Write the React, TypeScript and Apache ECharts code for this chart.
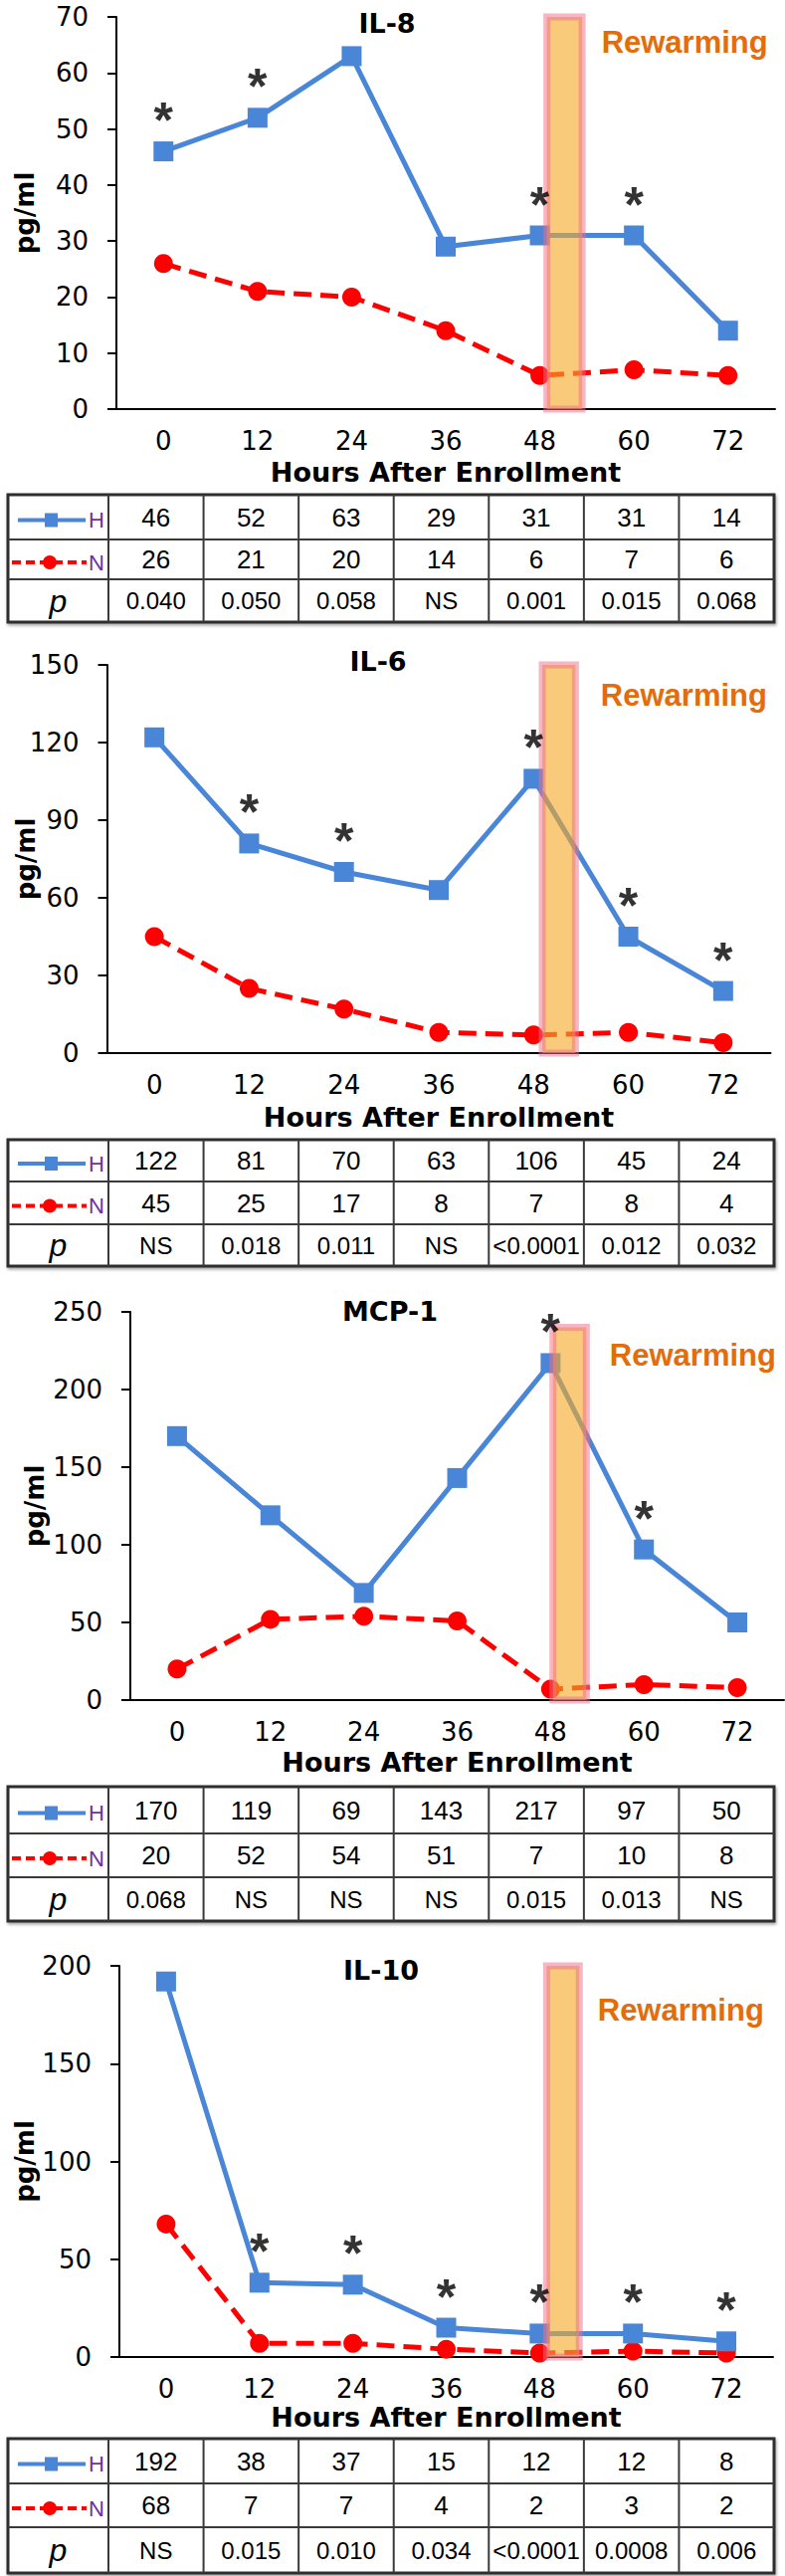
import React, { useEffect, useRef } from 'react';
import * as echarts from 'echarts';

// ---------------- data ----------------
const hours = ['0', '12', '24', '36', '48', '60', '72'];
const panelTitles = ['IL-8', 'IL-6', 'MCP-1', 'IL-10'];

const il8H = [46, 52, 63, 29, 31, 31, 14];
const il8N = [26, 21, 20, 14, 6, 7, 6];
const il8P = ['0.040', '0.050', '0.058', 'NS', '0.001', '0.015', '0.068'];
const il8Star = [true, true, false, false, true, true, false];

const il6H = [122, 81, 70, 63, 106, 45, 24];
const il6N = [45, 25, 17, 8, 7, 8, 4];
const il6P = ['NS', '0.018', '0.011', 'NS', '<0.0001', '0.012', '0.032'];
const il6Star = [false, true, true, false, true, true, true];

const mcp1H = [170, 119, 69, 143, 217, 97, 50];
const mcp1N = [20, 52, 54, 51, 7, 10, 8];
const mcp1P = ['0.068', 'NS', 'NS', 'NS', '0.015', '0.013', 'NS'];
const mcp1Star = [false, false, false, false, true, true, false];

const il10H = [192, 38, 37, 15, 12, 12, 8];
const il10N = [68, 7, 7, 4, 2, 3, 2];
const il10P = ['NS', '0.015', '0.010', '0.034', '<0.0001', '0.0008', '0.006'];
const il10Star = [false, true, true, true, true, true, true];

const yMax = [70, 150, 250, 200];
const yStep = [10, 30, 50, 50];
const rewarmStart = [48.9, 49.1, 48.3, 48.9];
const rewarmEnd = [53.4, 53.3, 52.6, 53.1];
const rewarmTop = [70, 150, 240, 200];

const seriesH = [il8H, il6H, mcp1H, il10H];
const seriesN = [il8N, il6N, mcp1N, il10N];
const pVals = [il8P, il6P, mcp1P, il10P];
const stars = [il8Star, il6Star, mcp1Star, il10Star];

// ---------------- layout / style ----------------
const GRID = [
  { left: 117, top: 17, width: 662, height: 394 },
  { left: 107.5, top: 668, width: 667, height: 390 },
  { left: 131, top: 1318, width: 657, height: 390 },
  { left: 120, top: 1975, width: 657, height: 393 },
];
const TITLE_POS = [
  [389, 23],
  [380, 664],
  [392, 1317],
  [383, 1979],
];
const Y_NAME_GAP = [79, 69, 83, 82];
const X_NAME_GAP = [50, 51, 49, 47];
const REWARM_OFFSET = [
  [16, 13],
  [22, 18],
  [20, 16],
  [15, 32],
];
const TABLE_TOP = [497, 1145, 1795, 2450];
const ROW_H = [
  [45, 40, 43],
  [42, 43, 42],
  [47, 44, 44],
  [45, 44, 46],
];
const TABLE_LEFT = 8;
const TABLE_COL1 = 109;
const TABLE_RIGHT = 778;
const COL_W = (TABLE_RIGHT - TABLE_COL1) / 7;

const BLUE = '#4A86D8';
const RED = '#FF0000';
const PURPLE = '#7030A0';
const ORANGE = '#E46C0A';
const AX = 'DejaVu Sans';
const ARIAL = 'Liberation Sans';

function txt(x: number, y: number, text: string, size: number, opts: any = {}) {
  return {
    type: 'text',
    x,
    y,
    silent: true,
    style: {
      text,
      fill: opts.fill || '#000',
      fontSize: size,
      fontFamily: opts.family || ARIAL,
      fontWeight: opts.weight || 'normal',
      fontStyle: opts.style || 'normal',
      align: 'center',
      verticalAlign: 'middle',
      textAlign: 'center',
      textVerticalAlign: 'middle',
    },
  };
}

function tableGroup(i: number) {
  const [h1, h2, h3] = ROW_H[i];
  const total = h1 + h2 + h3;
  const yH = h1 / 2;
  const yN = h1 + h2 / 2;
  const yP = h1 + h2 + h3 / 2;
  const children: any[] = [];
  children.push({
    type: 'rect',
    shape: { x: TABLE_LEFT, y: 0, width: TABLE_RIGHT - TABLE_LEFT, height: total },
    style: {
      fill: '#fff',
      stroke: '#2e2e2e',
      lineWidth: 3,
      shadowBlur: 3,
      shadowOffsetX: 1,
      shadowOffsetY: 2,
      shadowColor: 'rgba(0,0,0,0.35)',
    },
  });
  for (let k = 0; k < 7; k++) {
    const x = TABLE_COL1 + k * COL_W;
    children.push({ type: 'line', shape: { x1: x, y1: 0, x2: x, y2: total }, style: { stroke: '#3a3a3a', lineWidth: 2 } });
  }
  [h1, h1 + h2].forEach((y) => {
    children.push({ type: 'line', shape: { x1: TABLE_LEFT, y1: y, x2: TABLE_RIGHT, y2: y }, style: { stroke: '#3a3a3a', lineWidth: 2 } });
  });
  for (let j = 0; j < 7; j++) {
    const cx = TABLE_COL1 + (j + 0.5) * COL_W;
    children.push(txt(cx, yH, String(seriesH[i][j]), 26));
    children.push(txt(cx, yN, String(seriesN[i][j]), 26));
    children.push(txt(cx, yP, pVals[i][j], 24));
  }
  // legend keys
  children.push({ type: 'line', shape: { x1: 18, y1: yH + 3, x2: 86, y2: yH + 3 }, style: { stroke: BLUE, lineWidth: 4 } });
  children.push({ type: 'rect', shape: { x: 45, y: yH + 3 - 7, width: 13, height: 14 }, style: { fill: BLUE } });
  children.push(txt(97, yH + 3, 'H', 22, { fill: PURPLE }));
  children.push({ type: 'line', shape: { x1: 12, y1: yN + 3, x2: 87, y2: yN + 3 }, style: { stroke: RED, lineWidth: 4, lineDash: [9, 5] } });
  children.push({ type: 'circle', shape: { cx: 50, cy: yN + 3, r: 7 }, style: { fill: RED } });
  children.push(txt(97, yN + 3, 'N', 22, { fill: PURPLE }));
  children.push(txt((TABLE_LEFT + TABLE_COL1) / 2, yP, 'p', 32, { style: 'italic' }));
  return { type: 'group', x: 0, y: TABLE_TOP[i], children };
}

function buildOption() {
  const xAxis: any[] = [];
  const yAxis: any[] = [];
  const series: any[] = [];
  const graphic: any[] = [];

  for (let i = 0; i < 4; i++) {
    xAxis.push({
      type: 'category',
      gridIndex: i,
      data: hours,
      boundaryGap: true,
      axisLine: { onZero: false, lineStyle: { color: '#000', width: 2 } },
      axisTick: { alignWithLabel: true, length: 13, lineStyle: { color: '#000', width: 2 } },
      axisLabel: { color: '#000', fontSize: 26, fontFamily: AX, margin: 19, interval: 0 },
      splitLine: { show: false },
      name: 'Hours After Enrollment',
      nameLocation: 'middle',
      nameGap: X_NAME_GAP[i],
      nameMoveOverlap: false,
      nameTextStyle: { color: '#000', fontSize: 27, fontWeight: 'bold', fontFamily: AX },
    });
    xAxis.push({ type: 'value', gridIndex: i, min: -6, max: 78, show: false });
    yAxis.push({
      type: 'value',
      gridIndex: i,
      min: 0,
      max: yMax[i],
      interval: yStep[i],
      axisLine: { show: true, onZero: false, lineStyle: { color: '#000', width: 2 } },
      axisTick: { show: true, length: 9, lineStyle: { color: '#000', width: 2 } },
      splitLine: { show: false },
      axisLabel: { color: '#000', fontSize: 26, fontFamily: AX, margin: 28 },
      name: 'pg/ml',
      nameLocation: 'middle',
      nameRotate: 90,
      nameGap: Y_NAME_GAP[i],
      nameMoveOverlap: false,
      nameTextStyle: { color: '#000', fontSize: 26, fontWeight: 'bold', fontFamily: AX },
    });

    series.push({
      name: 'N',
      type: 'line',
      xAxisIndex: 2 * i,
      yAxisIndex: i,
      data: seriesN[i],
      symbol: 'circle',
      symbolSize: 19,
      lineStyle: { color: RED, width: 5, type: [18, 9] },
      itemStyle: { color: RED },
      z: 2,
      silent: true,
    });
    series.push({
      name: 'H',
      type: 'line',
      xAxisIndex: 2 * i,
      yAxisIndex: i,
      data: seriesH[i],
      symbol: 'rect',
      symbolSize: 20,
      lineStyle: { color: BLUE, width: 5 },
      itemStyle: { color: BLUE },
      z: 3,
      silent: true,
    });
    series.push({
      name: 'sig',
      type: 'scatter',
      xAxisIndex: 2 * i,
      yAxisIndex: i,
      data: seriesH[i].map((v, k) => (stars[i][k] ? v : '-')),
      symbol: 'circle',
      symbolSize: 1,
      itemStyle: { color: 'rgba(0,0,0,0)' },
      label: {
        show: true,
        position: 'inside',
        formatter: '*',
        fontSize: 50,
        fontWeight: 'bold',
        fontFamily: ARIAL,
        color: '#000',
        offset: [0, -31],
      },
      z: 6,
      silent: true,
    });
    series.push({
      name: 'rewarm',
      type: 'line',
      xAxisIndex: 2 * i + 1,
      yAxisIndex: i,
      data: [],
      silent: true,
      markArea: {
        silent: true,
        z: 5,
        itemStyle: {
          color: 'rgba(244,170,40,0.62)',
          borderColor: 'rgba(238,110,140,0.5)',
          borderWidth: 7,
        },
        label: {
          show: true,
          position: ['100%', 0],
          offset: REWARM_OFFSET[i],
          align: 'left',
          verticalAlign: 'top',
          formatter: 'Rewarming',
          color: ORANGE,
          fontSize: 31,
          fontWeight: 'bold',
          fontFamily: ARIAL,
        },
        data: [[{ xAxis: rewarmStart[i], yAxis: 0 }, { xAxis: rewarmEnd[i], yAxis: rewarmTop[i] }]],
      },
    });

    graphic.push(txt(TITLE_POS[i][0], TITLE_POS[i][1], panelTitles[i], 27, { family: AX, weight: 'bold' }));
    graphic.push(tableGroup(i));
  }

  return {
    animation: false,
    backgroundColor: '#fff',
    grid: GRID.map((g) => ({ ...g, containLabel: false, outerBoundsMode: 'none' })),
    xAxis,
    yAxis,
    series,
    graphic: { elements: graphic },
  };
}

export default function App() {
  const ref = useRef<HTMLDivElement>(null);
  useEffect(() => {
    document.body.style.margin = '0';
    const chart = echarts.init(ref.current!, null, { renderer: 'svg' });
    chart.setOption(buildOption() as any);
    return () => chart.dispose();
  }, []);
  return <div ref={ref} style={{ width: 789, height: 2588 }} />;
}
